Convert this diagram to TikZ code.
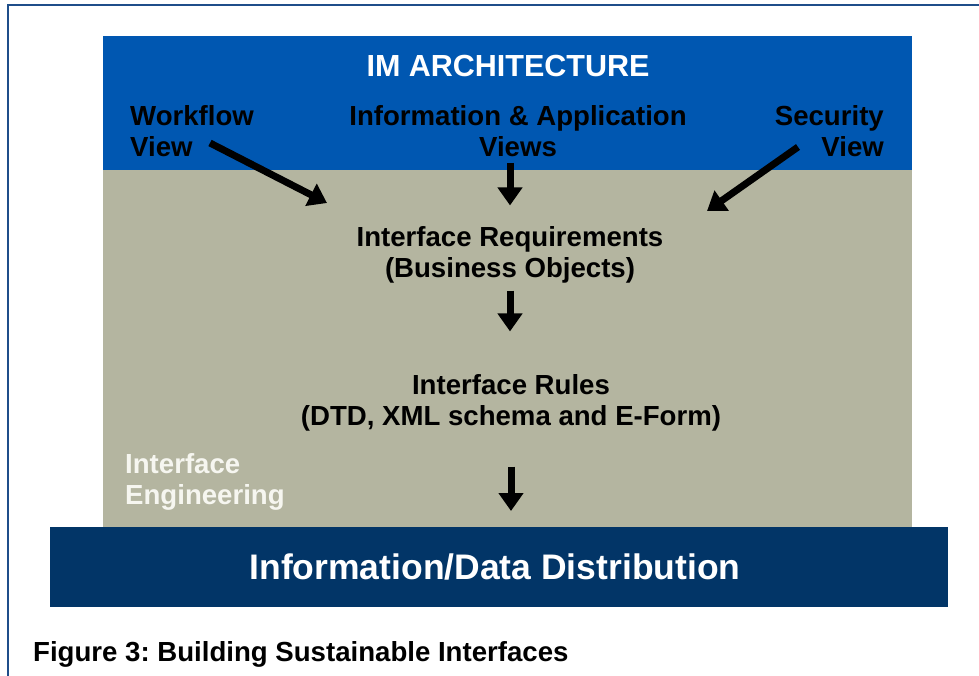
\documentclass[tikz,border=0pt]{standalone}
\usepackage{fontspec}
\setmainfont{Liberation Sans}
\usepackage{tikz}
\usetikzlibrary{positioning}
\usetikzlibrary{arrows.meta}
\frenchspacing

\definecolor{archblue}{RGB}{0,87,177}
\definecolor{engtan}{RGB}{180,181,160}
\definecolor{distnavy}{RGB}{2,53,103}
\definecolor{framecol}{RGB}{31,78,138}
\definecolor{englight}{RGB}{246,246,240}

\tikzset{
    lbl/.style={font=\fontsize{27.6}{31}\selectfont\bfseries, align=center,
        inner sep=0pt},
    layer/.style={rectangle, inner sep=0pt, outer sep=0pt},
    bigarrow/.style={-{Triangle[length=18pt, width=24pt]}, line width=7pt},
}

\begin{document}
\begin{tikzpicture}[x=1pt, y=-1pt]
        \useasboundingbox (0,0) rectangle (979,676);

        % outer frame
        \draw[framecol, line width=1.5pt] (8,5) rectangle (995,700);

        % the three layers
        \node[layer, fill=archblue, minimum width=809pt, minimum height=134pt]
        (archbox) at (507.5,103) {};
        \node[layer, fill=engtan, minimum width=809pt, minimum height=357pt]
        (engbox) at (507.5,348.5) {};
        \node[layer, fill=distnavy, minimum width=898pt, minimum height=80pt]
        (distbox) at (499,567) {};
        \node[lbl, text=white, font=\fontsize{35.5}{40}\selectfont\bfseries]
        (disttitle) at (495,567) {Information/Data Distribution};

        \node[lbl, text=white, font=\fontsize{30.5}{36}\selectfont\bfseries]
        (archtitle) at (508,66) {IM ARCHITECTURE};

        % views
        \node[lbl, align=left, anchor=west] (wf) at (130,131)
        {Workflow\\View};
        \node[lbl] (info) at (518,131) {Information \& Application\\Views};
        \node[lbl, align=right, anchor=east] (sec) at (884,131)
        {Security\\View};

        \node[lbl] (req) at (510,255)
        {Interface Requirements\\(Business Objects)};
        \node[lbl] (rules) at (511,403)
        {Interface Rules\\(DTD, XML schema and E-Form)};

        \node[lbl, align=left, anchor=west, text=englight] (eng) at (125,482)
        {Interface\\Engineering};

        \node[lbl, anchor=west] (caption) at (33,654)
        {Figure 3: Building Sustainable Interfaces};

        % arrows
        \coordinate (wftail) at (210,143);
        \coordinate (wftip) at (327,203);
        \coordinate (sectail) at (798,147);
        \coordinate (sectip) at (707,211);

        \draw[bigarrow] (wftail) -- (wftip);
        \draw[bigarrow] (sectail) -- (sectip);
        \draw[bigarrow, shorten <=6pt, shorten >=21pt]
        (req.north |- info.south) -- (req.north);
        \draw[bigarrow, shorten <=7pt, shorten >=43pt]
        (req.south) -- (req.south |- rules.north);
        \draw[bigarrow, shorten <=35pt, shorten >=16pt]
        (rules.south) -- (rules.south |- distbox.north);
    \end{tikzpicture}
\end{document}
